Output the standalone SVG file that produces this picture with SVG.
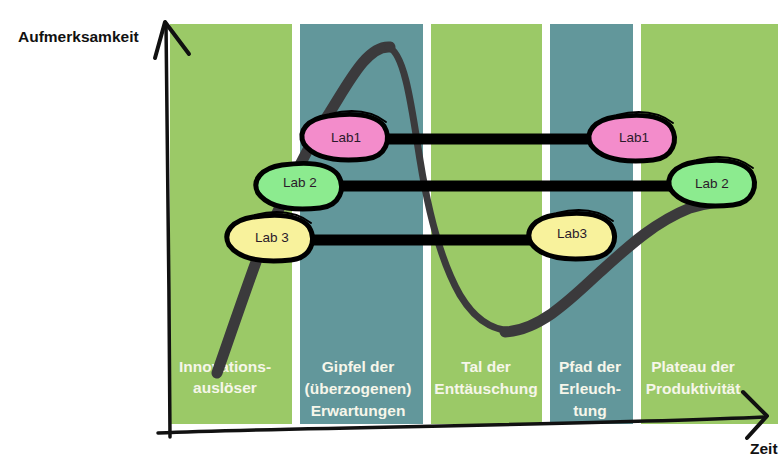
<svg xmlns="http://www.w3.org/2000/svg" width="780" height="456" viewBox="0 0 780 456">
<defs>
<style>
.green{fill:#9bc967}
.teal{fill:#62979b}
.col{font-family:"Liberation Sans",Arial,sans-serif;font-weight:bold;font-size:15.5px;fill:#f6f6ea;text-anchor:middle}
.axis{font-family:"Liberation Sans",Arial,sans-serif;font-weight:bold;font-size:15.5px;fill:#111}
.ax{fill:none;stroke:#111;stroke-linecap:round;stroke-linejoin:round}
.curve{fill:none;stroke:#3b3a3c;stroke-linecap:round;stroke-linejoin:round}
.bar{stroke:#000;stroke-width:11;stroke-linecap:butt}
.blob{stroke:#000;stroke-width:5;stroke-linejoin:round}
.flour{fill:none;stroke:#000;stroke-width:2;stroke-linecap:round}
.lbl{font-family:"Liberation Sans",Arial,sans-serif;font-size:13.5px;fill:#2a1a2a;text-anchor:middle}
.pink{fill:#f38ccb}
.lgreen{fill:#8ceb8f}
.yellow{fill:#f8f29c}
</style>
<path id="egg" d="M 6,30 C -1,17 10,5 30,2 C 52,-1 76,-1 86,12 C 94,25 88,43 68,45 C 48,47 18,47 6,30 Z"/>
</defs>
<rect width="780" height="456" fill="#fff"/>
<g id="columns">
<rect class="green" x="170" y="24" width="122" height="400"/>
<rect class="teal" x="300" y="24" width="123" height="400"/>
<rect class="green" x="431" y="24" width="111" height="400"/>
<rect class="teal" x="550" y="24" width="83" height="400"/>
<rect class="green" x="641" y="24" width="137" height="400"/>
</g>
<g id="phase-labels">
<text class="col" x="225" y="372">Innovations-</text>
<text class="col" x="225" y="393">auslöser</text>
<text class="col" x="358" y="372">Gipfel der</text>
<text class="col" x="358" y="394">(überzogenen)</text>
<text class="col" x="358" y="416">Erwartungen</text>
<text class="col" x="486" y="372">Tal der</text>
<text class="col" x="486" y="394">Enttäuschung</text>
<text class="col" x="590" y="372">Pfad der</text>
<text class="col" x="590" y="394">Erleuch-</text>
<text class="col" x="590" y="416">tung</text>
<text class="col" x="693" y="372">Plateau der</text>
<text class="col" x="693" y="394">Produktivität</text>
</g>
<g id="axes">
<path class="ax" stroke-width="3.5" d="M 170,437 C 169,300 168,150 166,24"/>
<path class="ax" stroke-width="4" d="M 155,58 L 165,22 L 189,54"/>
<path class="ax" stroke-width="3.5" d="M 158,433 C 300,427 600,425 766,417"/>
<path class="ax" stroke-width="4" d="M 743,392 L 767,416 L 747,438"/>
<text class="axis" x="18" y="42">Aufmerksamkeit</text>
<text class="axis" x="750" y="454">Zeit</text>
</g>
<g id="hype-curve">
<path class="curve" stroke-width="11" d="M 217,373 C 232,330 245,292 256,262 C 275,215 305,150 330,112 C 350,80 368,45 390,47"/>
<path class="curve" stroke-width="7" d="M 388,47 C 405,52 412,110 420,160 C 428,210 440,260 460,295 C 478,325 500,333 520,330"/>
<path class="curve" stroke-width="11" d="M 505,332 C 540,330 570,300 600,272 C 630,245 655,222 690,208 C 700,205 710,203 718,202"/>
</g>
<g id="connectors">
<line class="bar" x1="385" y1="139" x2="590" y2="139"/>
<line class="bar" x1="340" y1="186" x2="670" y2="186"/>
<line class="bar" x1="310" y1="240" x2="530" y2="240"/>
</g>
<g id="lab1-left" transform="translate(298,114)">
<use href="#egg" class="blob pink"/>
<path class="flour" d="M 32,0 C 52,-5 72,-4 88,8"/>
<text class="lbl" x="48" y="28">Lab1</text>
</g>
<g id="lab1-right" transform="translate(585,115)">
<use href="#egg" class="blob pink"/>
<path class="flour" d="M 32,0 C 52,-5 72,-4 88,8"/>
<text class="lbl" x="49" y="27">Lab1</text>
</g>
<g id="lab2-left" transform="translate(252,163)">
<use href="#egg" class="blob lgreen"/>
<text class="lbl" x="48" y="24">Lab 2</text>
</g>
<g id="lab2-right" transform="translate(665,160)">
<use href="#egg" class="blob lgreen"/>
<path class="flour" d="M 32,0 C 52,-5 72,-4 88,8"/>
<text class="lbl" x="47" y="28">Lab 2</text>
</g>
<g id="lab3-left" transform="translate(223,215)">
<use href="#egg" class="blob yellow"/>
<path class="flour" d="M 32,0 C 52,-5 72,-4 88,8"/>
<text class="lbl" x="49" y="27">Lab 3</text>
</g>
<g id="lab3-right" transform="translate(525,213)">
<use href="#egg" class="blob yellow"/>
<path class="flour" d="M 32,0 C 52,-5 72,-4 88,8"/>
<text class="lbl" x="47" y="25">Lab3</text>
</g>
</svg>
